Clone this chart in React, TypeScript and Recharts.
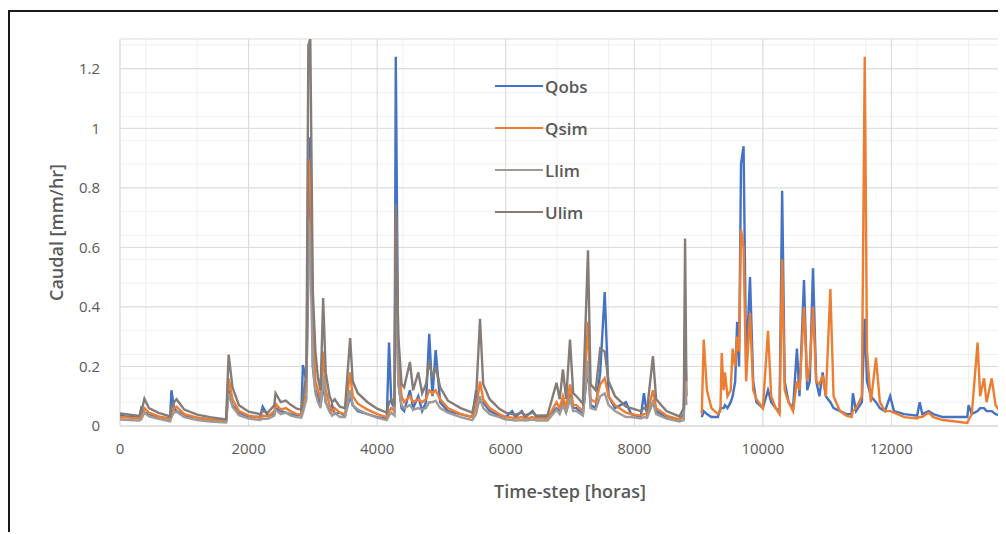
import React from "react";
import { LineChart, Line, XAxis, YAxis, CartesianGrid, Legend } from "recharts";

// calibration period (with uncertainty limits)
const calTime = [
  0, 150, 300, 330, 380, 450, 600, 780, 800, 840,
  880, 1000, 1200, 1400, 1650, 1690, 1750, 1850, 2000, 2180,
  2220, 2300, 2400, 2420, 2500, 2580, 2650, 2750, 2820, 2845,
  2900, 2930, 2960, 3000, 3040, 3080, 3120, 3160, 3200, 3260,
  3300, 3340, 3420, 3500, 3580, 3620, 3700, 3850, 4000, 4150,
  4185, 4220, 4270, 4290, 4330, 4380, 4420, 4510, 4560, 4640,
  4700, 4760, 4810, 4860, 4910, 4980, 5100, 5300, 5480, 5540,
  5600, 5650, 5750, 5900, 6000, 6100, 6150, 6250, 6300, 6420,
  6480, 6650, 6790, 6840, 6890, 6940, 7000, 7050, 7100, 7200,
  7280, 7320, 7400, 7470, 7540, 7600, 7700, 7870, 7950, 8100,
  8150, 8200, 8290, 8340, 8500, 8700, 8770, 8790, 8810,
];
const calQobs = [
  0.035, 0.030, 0.028, 0.060, 0.045, 0.040, 0.030, 0.025, 0.120, 0.060,
  0.050, 0.035, 0.028, 0.022, 0.018, 0.120, 0.070, 0.045, 0.032, 0.030,
  0.065, 0.035, 0.040, 0.060, 0.050, 0.045, 0.040, 0.035, 0.040, 0.205,
  0.150, 0.500, 0.970, 0.200, 0.120, 0.100, 0.070, 0.140, 0.080, 0.050,
  0.070, 0.040, 0.045, 0.035, 0.100, 0.070, 0.050, 0.040, 0.030, 0.025,
  0.280, 0.080, 0.060, 1.240, 0.150, 0.060, 0.050, 0.120, 0.060, 0.100,
  0.050, 0.080, 0.310, 0.100, 0.255, 0.080, 0.050, 0.040, 0.030, 0.120,
  0.080, 0.080, 0.050, 0.035, 0.030, 0.050, 0.030, 0.050, 0.030, 0.050,
  0.030, 0.030, 0.060, 0.050, 0.080, 0.050, 0.100, 0.060, 0.060, 0.040,
  0.200, 0.070, 0.060, 0.180, 0.450, 0.100, 0.060, 0.080, 0.040, 0.030,
  0.110, 0.035, 0.080, 0.050, 0.030, 0.020, 0.040, 0.300, 0.100,
];
const calQsim = [
  0.030, 0.028, 0.025, 0.030, 0.060, 0.045, 0.032, 0.024, 0.040, 0.060,
  0.065, 0.040, 0.028, 0.022, 0.016, 0.160, 0.090, 0.050, 0.035, 0.028,
  0.035, 0.032, 0.050, 0.075, 0.055, 0.060, 0.050, 0.040, 0.038, 0.060,
  0.120, 0.900, 0.850, 0.300, 0.150, 0.120, 0.090, 0.250, 0.120, 0.070,
  0.050, 0.060, 0.045, 0.040, 0.180, 0.100, 0.075, 0.055, 0.040, 0.030,
  0.050, 0.060, 0.050, 0.720, 0.200, 0.100, 0.080, 0.100, 0.080, 0.090,
  0.080, 0.090, 0.120, 0.110, 0.120, 0.090, 0.060, 0.040, 0.030, 0.060,
  0.150, 0.090, 0.060, 0.040, 0.030, 0.028, 0.026, 0.030, 0.025, 0.030,
  0.025, 0.025, 0.080, 0.060, 0.100, 0.060, 0.140, 0.070, 0.070, 0.050,
  0.350, 0.090, 0.080, 0.140, 0.160, 0.100, 0.070, 0.045, 0.040, 0.035,
  0.040, 0.040, 0.120, 0.060, 0.035, 0.022, 0.030, 0.350, 0.100,
];
const calLlim = [
  0.022, 0.020, 0.018, 0.022, 0.045, 0.032, 0.024, 0.016, 0.030, 0.045,
  0.048, 0.030, 0.020, 0.015, 0.012, 0.110, 0.065, 0.036, 0.025, 0.020,
  0.025, 0.024, 0.035, 0.055, 0.040, 0.045, 0.036, 0.030, 0.028, 0.045,
  0.090, 0.700, 0.600, 0.200, 0.110, 0.080, 0.060, 0.170, 0.080, 0.050,
  0.035, 0.045, 0.030, 0.030, 0.120, 0.070, 0.055, 0.040, 0.028, 0.020,
  0.035, 0.045, 0.035, 0.500, 0.140, 0.070, 0.060, 0.070, 0.055, 0.060,
  0.055, 0.060, 0.080, 0.080, 0.085, 0.060, 0.045, 0.030, 0.020, 0.040,
  0.100, 0.060, 0.040, 0.030, 0.022, 0.020, 0.018, 0.020, 0.018, 0.022,
  0.018, 0.018, 0.055, 0.040, 0.070, 0.045, 0.090, 0.050, 0.050, 0.035,
  0.220, 0.060, 0.055, 0.100, 0.110, 0.070, 0.050, 0.030, 0.030, 0.025,
  0.030, 0.028, 0.080, 0.040, 0.025, 0.015, 0.020, 0.200, 0.070,
];
const calUlim = [
  0.042, 0.038, 0.034, 0.045, 0.092, 0.060, 0.044, 0.032, 0.060, 0.080,
  0.090, 0.055, 0.038, 0.030, 0.022, 0.240, 0.130, 0.070, 0.048, 0.040,
  0.050, 0.045, 0.070, 0.110, 0.080, 0.085, 0.072, 0.058, 0.055, 0.090,
  0.180, 1.280, 1.300, 0.450, 0.250, 0.160, 0.120, 0.430, 0.180, 0.100,
  0.080, 0.090, 0.065, 0.060, 0.295, 0.150, 0.110, 0.080, 0.058, 0.045,
  0.080, 0.090, 0.075, 0.745, 0.300, 0.140, 0.130, 0.215, 0.120, 0.180,
  0.110, 0.140, 0.220, 0.160, 0.200, 0.130, 0.085, 0.060, 0.045, 0.100,
  0.360, 0.140, 0.090, 0.058, 0.045, 0.040, 0.038, 0.045, 0.036, 0.045,
  0.035, 0.036, 0.145, 0.090, 0.190, 0.090, 0.290, 0.110, 0.100, 0.075,
  0.590, 0.140, 0.120, 0.260, 0.250, 0.150, 0.100, 0.065, 0.060, 0.050,
  0.060, 0.055, 0.235, 0.090, 0.050, 0.032, 0.060, 0.630, 0.150,
];

// validation period (no limits)
const valTime = [
  9050, 9080, 9130, 9200, 9300, 9340, 9360, 9390, 9410, 9450,
  9500, 9530, 9570, 9600, 9630, 9660, 9700, 9740, 9800, 9850,
  9900, 10000, 10080, 10130, 10200, 10260, 10300, 10340, 10400, 10470,
  10530, 10570, 10640, 10690, 10730, 10780, 10830, 10880, 10930, 10980,
  11050, 11100, 11200, 11300, 11380, 11400, 11450, 11540, 11585, 11620,
  11680, 11760, 11820, 11900, 11980, 12040, 12200, 12400, 12440, 12480,
  12580, 12650, 12800, 13000, 13180, 13200, 13250, 13340, 13380, 13440,
  13480, 13560, 13620, 13700, 13800, 13950,
];
const valQobs = [
  0.030, 0.050, 0.040, 0.030, 0.030, 0.060, 0.060, 0.060, 0.070, 0.060,
  0.080, 0.100, 0.150, 0.350, 0.200, 0.880, 0.940, 0.200, 0.500, 0.150,
  0.080, 0.060, 0.120, 0.080, 0.060, 0.050, 0.790, 0.150, 0.080, 0.060,
  0.260, 0.100, 0.490, 0.120, 0.150, 0.530, 0.150, 0.100, 0.180, 0.100,
  0.080, 0.060, 0.050, 0.040, 0.040, 0.110, 0.050, 0.080, 0.360, 0.150,
  0.100, 0.080, 0.060, 0.050, 0.100, 0.050, 0.040, 0.035, 0.080, 0.040,
  0.050, 0.040, 0.030, 0.030, 0.030, 0.070, 0.040, 0.050, 0.060, 0.060,
  0.050, 0.050, 0.040, 0.035, 0.030, 0.030,
];
const valQsim = [
  0.040, 0.290, 0.120, 0.060, 0.040, 0.050, 0.245, 0.120, 0.180, 0.100,
  0.120, 0.260, 0.200, 0.300, 0.250, 0.660, 0.600, 0.150, 0.380, 0.120,
  0.090, 0.060, 0.320, 0.100, 0.060, 0.040, 0.560, 0.120, 0.080, 0.050,
  0.150, 0.120, 0.400, 0.150, 0.200, 0.400, 0.150, 0.140, 0.170, 0.100,
  0.460, 0.100, 0.050, 0.035, 0.030, 0.050, 0.060, 0.100, 1.240, 0.250,
  0.080, 0.230, 0.080, 0.050, 0.050, 0.045, 0.030, 0.025, 0.030, 0.030,
  0.045, 0.030, 0.020, 0.015, 0.010, 0.020, 0.040, 0.280, 0.100, 0.160,
  0.080, 0.160, 0.070, 0.045, 0.040, 0.035,
];

const xTicks = [0, 2000, 4000, 6000, 8000, 10000, 12000];
const yTicks = [0, 0.2, 0.4, 0.6, 0.8, 1, 1.2];

const series = [
  { key: "qobs", name: "Qobs", color: "#4472C4" },
  { key: "qsim", name: "Qsim", color: "#ED7D31" },
  { key: "llim", name: "Llim", color: "#A09A96" },
  { key: "ulim", name: "Ulim", color: "#857C77" },
];

const data = [
  ...calTime.map((t, i) => ({ t, qobs: calQobs[i], qsim: calQsim[i], llim: calLlim[i], ulim: calUlim[i] })),
  { t: 8930, qobs: null, qsim: null, llim: null, ulim: null },
  ...valTime.map((t, i) => ({ t, qobs: valQobs[i], qsim: valQsim[i], llim: null, ulim: null })),
];

// minor gridlines (5 per major division)
const minorX = Array.from({ length: 36 }, (_, i) => i * 400);
const minorY = Array.from({ length: 33 }, (_, i) => Math.round(i * 4) / 100);

const textColor = "#595959";

function LegendBox() {
  return (
    <div>
      {series.map((s) => (
        <div key={s.key} style={{ display: "flex", alignItems: "center", height: 42 }}>
          <span style={{ display: "inline-block", width: 48, height: 2.5, background: s.color }} />
          <span style={{ fontSize: 17, fontWeight: 600, color: textColor, marginLeft: 2 }}>{s.name}</span>
        </div>
      ))}
    </div>
  );
}

export default function App() {
  return (
    <div
      style={{
        position: "relative",
        top: 2,
        width: 996,
        height: 522,
        borderLeft: "2px solid #1a1a1a",
        borderTop: "2px solid #1a1a1a",
        overflow: "hidden",
        background: "#fff",
        fontFamily: "'Open Sans', sans-serif",
      }}
    >
      <LineChart width={1040} height={520} data={data} margin={{ top: 27, right: 30, bottom: 76, left: 30 }}>
        <CartesianGrid stroke="#f0f0f0" horizontalValues={minorY} verticalValues={minorX} />
        <CartesianGrid stroke="#d9d9d9" />
        <XAxis
          type="number"
          dataKey="t"
          domain={[0, 14000]}
          ticks={xTicks}
          allowDataOverflow
          height={30}
          tickLine={false}
          tickSize={10}
          tickMargin={7}
          axisLine={{ stroke: "#d9d9d9" }}
          tick={{ fill: textColor, fontSize: 15 }}
          label={{
            value: "Time-step [horas]",
            position: "bottom",
            offset: 29,
            style: { fill: textColor, fontSize: 18, fontWeight: 600 },
          }}
        />
        <YAxis
          type="number"
          domain={[0, 1.3]}
          ticks={yTicks}
          allowDataOverflow
          width={80}
          tickLine={false}
          axisLine={false}
          tickSize={12}
          tickMargin={8}
          tick={{ fill: textColor, fontSize: 15 }}
          label={{
            value: "Caudal [mm/hr]",
            angle: -90,
            position: "insideLeft",
            offset: 17,
            style: { textAnchor: "middle", fill: textColor, fontSize: 18, fontWeight: 600 },
          }}
        />
        <Legend
          layout="vertical"
          align="center"
          verticalAlign="middle"
          content={<LegendBox />}
          wrapperStyle={{ position: "absolute", left: 485, top: 53, width: "auto", height: "auto" }}
        />
        {series.map((s) => (
          <Line
            key={s.key}
            name={s.name}
            dataKey={s.key}
            stroke={s.color}
            strokeWidth={2.4}
            dot={false}
            activeDot={false}
            isAnimationActive={false}
          />
        ))}
      </LineChart>
    </div>
  );
}
